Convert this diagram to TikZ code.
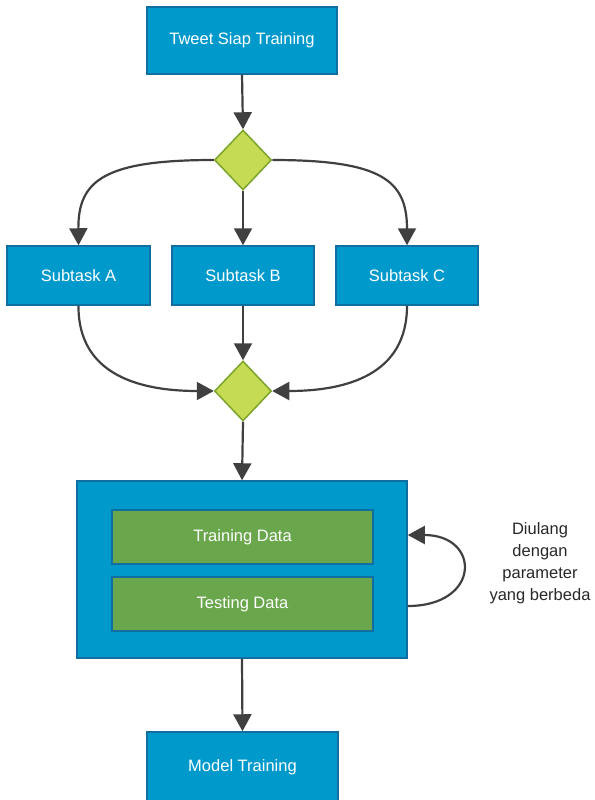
\documentclass[tikz,border=0pt]{standalone}
\usepackage{fontspec}
\setmainfont{Liberation Sans}
\usetikzlibrary{arrows.meta,shapes.geometric}
\definecolor{boxfill}{RGB}{0,153,204}
\definecolor{boxline}{RGB}{16,110,160}
\definecolor{gatefill}{RGB}{197,219,83}
\definecolor{gateline}{RGB}{124,163,42}
\definecolor{datafill}{RGB}{106,166,76}
\definecolor{flowline}{RGB}{64,64,64}
\definecolor{notetext}{RGB}{40,40,40}
\tikzset{
  x=1pt, y=-1pt,
  stepbox/.style={draw=boxline, line width=1.5pt, fill=boxfill, text=white,
    inner sep=0pt, font=\fontsize{16.5}{19}\selectfont},
  databox/.style={draw=boxline, line width=2pt, fill=datafill, text=white,
    inner sep=0pt, minimum width=261pt, minimum height=54pt,
    font=\fontsize{16.5}{19}\selectfont},
  gate/.style={diamond, draw=gateline, line width=1.5pt, fill=gatefill,
    inner sep=0pt, minimum width=57pt, minimum height=60pt},
  flow/.style={draw=flowline, line width=2.2pt,
    -{Triangle[length=17pt,width=18pt]}},
}
\begin{document}
\begin{tikzpicture}
\useasboundingbox (0,0) rectangle (594,800);
\clip (0,0) rectangle (594,800);

% process steps
\node[stepbox, minimum width=190pt, minimum height=67pt] (tweet) at (242,40.5) {Tweet Siap Training};
\node[gate] (split) at (243,160) {};
\node[stepbox, minimum width=143pt, minimum height=59pt] (sa) at (78.5,275.5) {Subtask A};
\node[stepbox, minimum width=142pt, minimum height=59pt] (sb) at (243,275.5) {Subtask B};
\node[stepbox, minimum width=142pt, minimum height=59pt] (sc) at (407,275.5) {Subtask C};
\node[gate] (join) at (243,391) {};

% training / testing block
\node[stepbox, minimum width=330pt, minimum height=177pt] (block) at (242,569.5) {};
\node[databox] (train) at (242.5,537) {Training Data};
\node[databox] (test) at (242.5,604) {Testing Data};

\node[stepbox, minimum width=191pt, minimum height=70pt] (model) at (242.5,767) {Model Training};

% note beside the loop
\node[text=notetext, align=center, font=\fontsize{16.5}{22}\selectfont] (note) at (540,563)
  {Diulang\\dengan\\parameter\\yang berbeda};

% connectors
\draw[flow] (tweet.south) -- (split.north);
\draw[flow] (split.south) -- (sb.north);
\draw[flow] (split.west) .. controls (105,160) and (78,180) .. (sa.north);
\draw[flow] (split.east) .. controls (381,160) and (407,180) .. (sc.north);
\draw[flow] (sb.south) -- (join.north);
\draw[flow] (sa.south) .. controls (78,375) and (140,391) .. (join.west);
\draw[flow] (sc.south) .. controls (407,375) and (346,391) .. (join.east);
\draw[flow] (join.south) -- (block.north);
\draw[flow] (block.south) -- (model.north);
\coordinate (loopout) at (block.east |- 0,606);
\coordinate (loopin) at (block.east |- 0,535);
\draw[flow] (loopout) .. controls (481,606) and (481,535) .. (loopin);
\end{tikzpicture}
\end{document}
